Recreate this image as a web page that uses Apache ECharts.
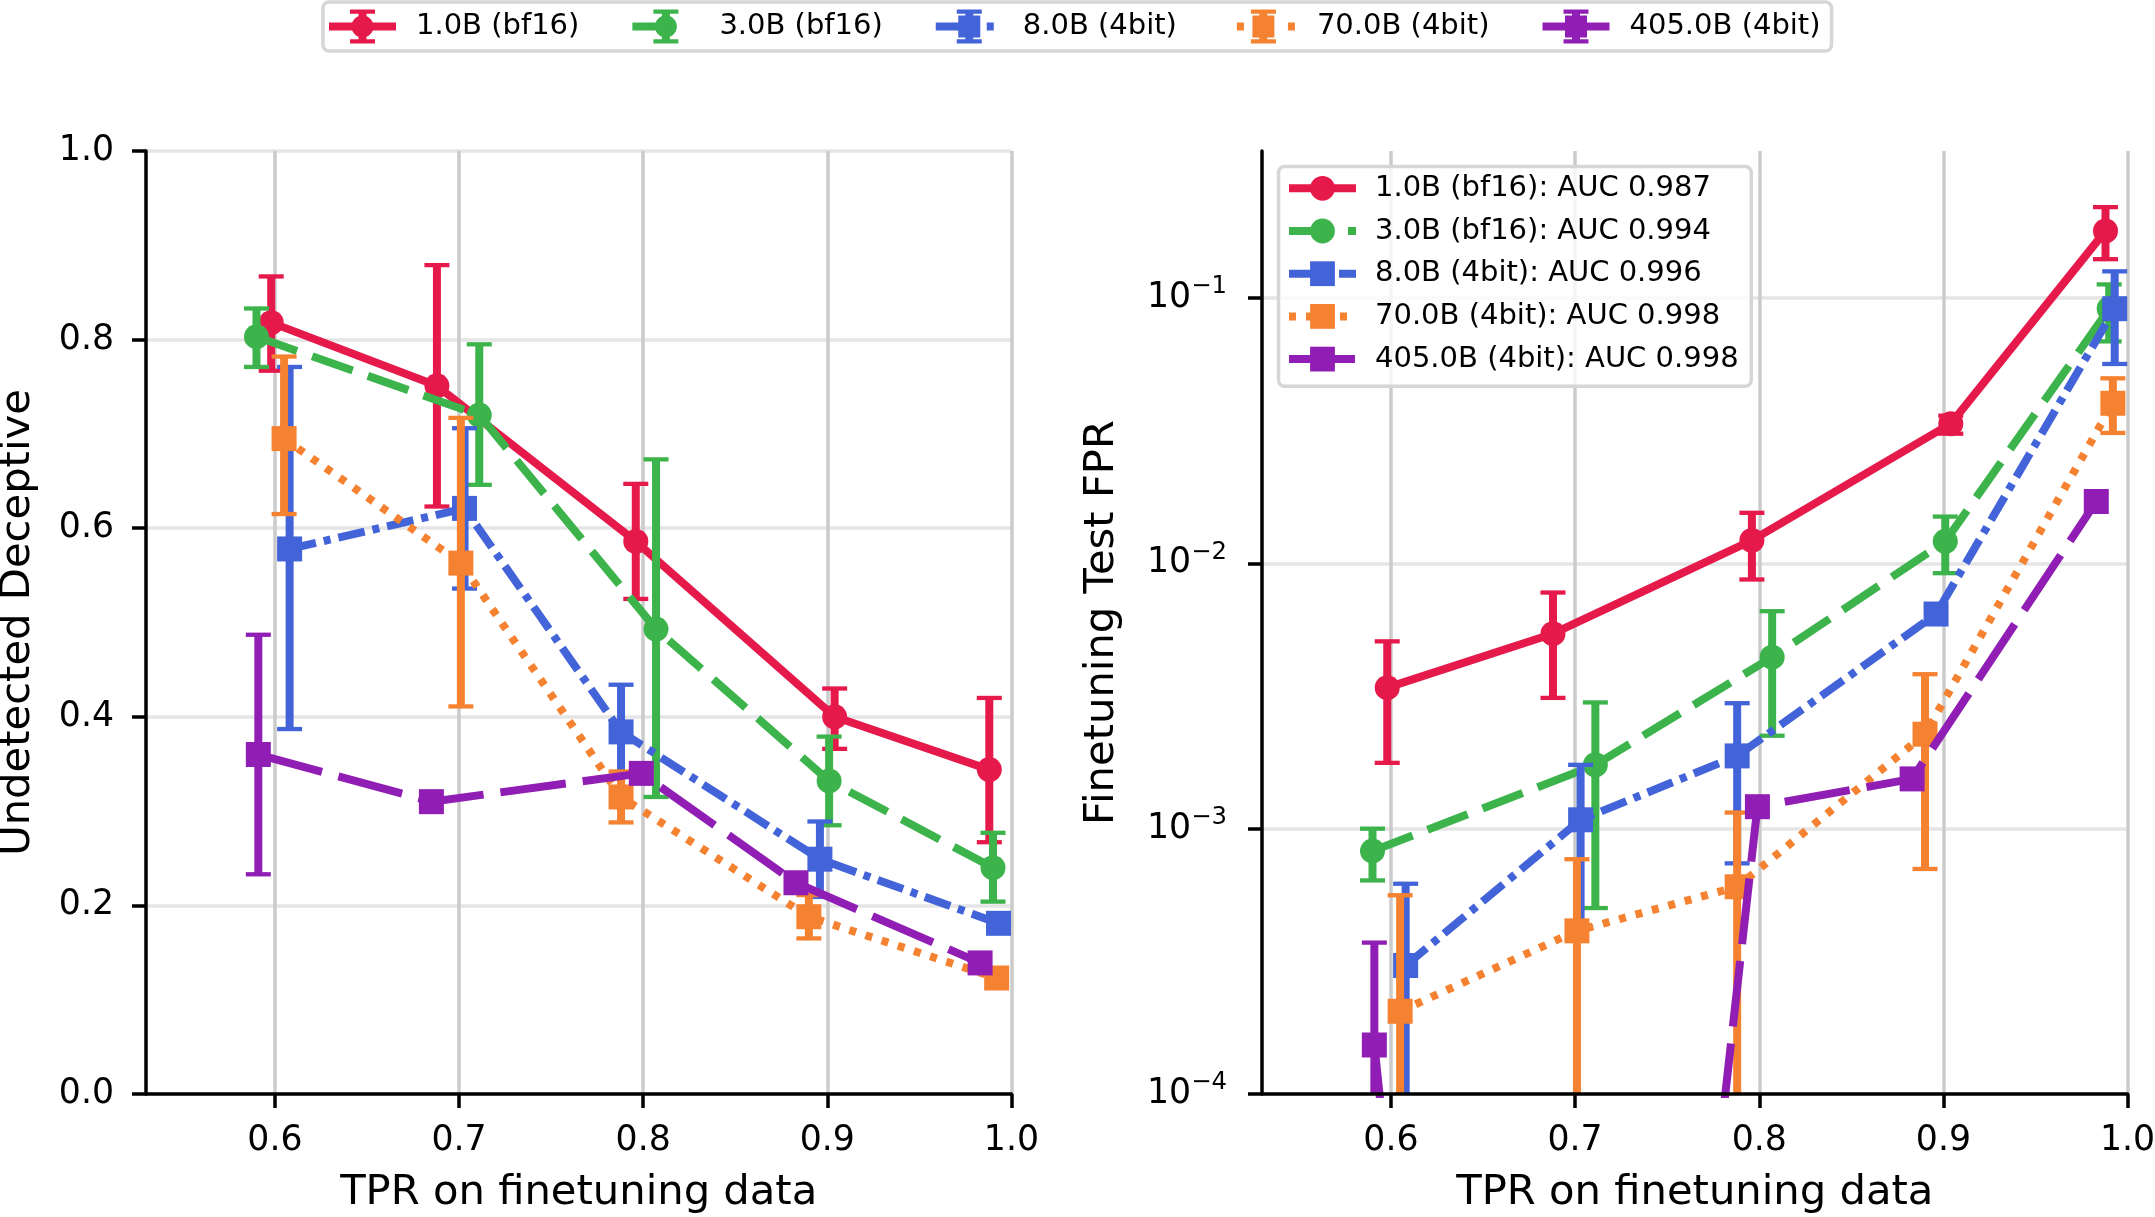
<!DOCTYPE html>
<html lang="en">
<head>
<meta charset="UTF-8" />
<title>Undetected deceptive rate and finetuning FPR vs TPR</title>
<script src="https://cdn.jsdelivr.net/npm/echarts@6.0.0/dist/echarts.min.js"></script>
<style>
  html, body { margin: 0; padding: 0; background: #fff; }
  #chart { width: 2155px; height: 1217px; }
</style>
</head>
<body>
<div id="chart"></div>
<script>
  // ---- data ----
  const models = ['1.0B (bf16)', '3.0B (bf16)', '8.0B (4bit)', '70.0B (4bit)', '405.0B (4bit)'];
  const aucs = ['0.987', '0.994', '0.996', '0.998', '0.998'];

  // TPR on finetuning data (x), shared by both panels
  const tpr = [
    [0.598, 0.688, 0.796, 0.904, 0.988],
    [0.590, 0.711, 0.807, 0.901, 0.990],
    [0.608, 0.703, 0.788, 0.896, 0.993],
    [0.605, 0.701, 0.788, 0.890, 0.992],
    [0.591, 0.685, 0.799, 0.883, 0.983]
  ];

  // left panel: undetected deceptive
  const undetected = [
    [0.818, 0.751, 0.586, 0.400, 0.344],
    [0.803, 0.720, 0.493, 0.332, 0.240],
    [0.578, 0.621, 0.384, 0.249, 0.181],
    [0.695, 0.563, 0.315, 0.188, 0.123],
    [0.360, 0.310, 0.340, 0.224, 0.139]
  ];
  const undetectedLo = [
    [0.767, 0.623, 0.525, 0.366, 0.267],
    [0.771, 0.646, 0.315, 0.285, 0.204],
    [0.387, 0.536, 0.337, 0.209, null],
    [0.615, 0.411, 0.288, 0.165, null],
    [0.233, null, null, null, null]
  ];
  const undetectedHi = [
    [0.867, 0.879, 0.647, 0.430, 0.420],
    [0.833, 0.795, 0.673, 0.379, 0.277],
    [0.771, 0.706, 0.434, 0.289, null],
    [0.782, 0.717, 0.342, 0.211, null],
    [0.487, null, null, null, null]
  ];

  // right panel: finetuning test FPR (log scale); 1e-10 / 1e-6 stand for ~0
  const fpr = [
    [0.0034, 0.00543, 0.0122, 0.0336, 0.179],
    [0.000824, 0.00174, 0.00443, 0.0121, 0.0911],
    [0.000305, 0.00108, 0.00188, 0.00644, 0.0911],
    [0.000205, 0.000412, 0.000604, 0.00227, 0.0401],
    [0.000153, 1e-10, 0.00121, 0.00154, 0.0171]
  ];
  const fprLo = [
    [0.00177, 0.00311, 0.00869, 0.0308, 0.140],
    [0.000638, 0.000502, 0.00224, 0.00918, 0.0686],
    [1e-6, 0.000426, 0.00074, null, 0.0564],
    [1e-6, 1e-6, 1e-6, 0.000705, 0.031],
    [1e-6, null, null, null, null]
  ];
  const fprHi = [
    [0.00508, 0.00776, 0.0155, 0.036, 0.220],
    [0.001, 0.00299, 0.0066, 0.0150, 0.1125],
    [0.00062, 0.00174, 0.00297, null, 0.126],
    [0.000561, 0.000767, 0.00115, 0.00382, 0.0498],
    [0.000372, null, null, null, null]
  ];

  const xTicks = [0.6, 0.7, 0.8, 0.9, 1.0];
  const logTicks = [1e-4, 1e-3, 1e-2, 1e-1];

  // ---- styles ----
  const FONT = 'DejaVu Sans';
  const colors = ['#e6194b', '#3cb44b', '#4363d8', '#f58231', '#911eb4'];
  const markers = ['circle', 'circle', 'rect', 'rect', 'rect'];
  const lineDash = ['solid', [43, 16], [27, 8, 7, 8], [7, 10], [66, 17]];
  const topLegendSegs = [[[0, 67]], [[0, 43]], [[0, 27], [51, 58]], [[7, 14], [58, 65]], [[0, 67]]];
  const LW = 8;

  function rect(x, y, w, h) {
    return 'M' + x + ' ' + y + 'h' + w + 'v' + h + 'h' + (-w) + 'Z';
  }

  // errorbar-style legend handle: line pieces, vertical bar with caps, marker
  function errIcon(i) {
    let d = rect(0, 0, 0.01, 0.01) + rect(66.99, 33.99, 0.01, 0.01);
    topLegendSegs[i].forEach(function (s) { d += rect(s[0], 13, s[1] - s[0], 8); });
    d += rect(29.5, 0, 8, 34) + rect(21, 0, 25, 4.3) + rect(21, 29.7, 25, 4.3);
    if (markers[i] === 'circle') {
      d += 'M22.5 17A11 11 0 1 1 44.5 17A11 11 0 1 1 22.5 17Z';
    } else {
      d += rect(22.5, 6, 22, 22);
    }
    return 'path://' + d;
  }

  function errorRenderer(color) {
    return function (params, api) {
      const x = api.value(0);
      const top = api.coord([x, api.value(2)]);
      const bot = api.coord([x, api.value(1)]);
      const half = 12.5;
      const bar = { stroke: color, lineWidth: LW };
      const cap = { stroke: color, lineWidth: 4.3 };
      return {
        type: 'group',
        children: [
          { type: 'line', shape: { x1: top[0], y1: top[1], x2: bot[0], y2: bot[1] }, style: bar },
          { type: 'line', shape: { x1: top[0] - half, y1: top[1], x2: top[0] + half, y2: top[1] }, style: cap },
          { type: 'line', shape: { x1: bot[0] - half, y1: bot[1], x2: bot[0] + half, y2: bot[1] }, style: cap }
        ]
      };
    };
  }

  const tickText = { fontFamily: FONT, fontSize: 34.7, color: '#000' };
  const nameText = { fontFamily: FONT, fontSize: 41.7, color: '#000' };
  const axisLine = { show: true, onZero: false, lineStyle: { color: '#000', width: 3.5 } };
  const axisTickStyle = { color: '#000', width: 3.5 };

  function mainX(gridIndex) {
    return {
      type: 'value', gridIndex: gridIndex, min: 0.53, max: 1.0, minInterval: 0.1, maxInterval: 0.1,
      position: 'bottom', z: 50,
      name: 'TPR on finetuning data', nameLocation: 'middle', nameGap: 78,
      nameTextStyle: Object.assign({ lineHeight: 42 }, nameText),
      axisLine: axisLine,
      axisTick: { show: true, length: 14, customValues: xTicks, lineStyle: axisTickStyle },
      axisLabel: Object.assign({ margin: 29, lineHeight: 35, customValues: xTicks,
        formatter: function (v) { return v.toFixed(1); } }, tickText),
      splitLine: { show: false }
    };
  }
  function gridX(gridIndex) {
    return {
      type: 'value', gridIndex: gridIndex, min: 0.53, max: 1.0, minInterval: 0.1, maxInterval: 0.1,
      position: 'top', z: 0,
      axisLine: { show: false }, axisTick: { show: false }, axisLabel: { show: false },
      splitLine: { show: true, showMinLine: false, lineStyle: { color: '#cbcbcb', width: 3.5 } }
    };
  }

  const series = [];
  models.forEach(function (name, i) {
    const base = {
      type: 'line', name: name, symbol: markers[i], symbolSize: 25, showSymbol: true,
      clip: true, animation: false, emphasis: { disabled: true },
      itemStyle: { color: colors[i], borderWidth: 0 },
      lineStyle: { color: colors[i], width: LW, type: lineDash[i], cap: 'butt', join: 'round' }
    };
    const errL = [], errR = [];
    tpr[i].forEach(function (x, j) {
      if (undetectedLo[i][j] != null) errL.push([x, undetectedLo[i][j], undetectedHi[i][j]]);
      if (fprLo[i][j] != null) errR.push([x, fprLo[i][j], fprHi[i][j]]);
    });
    series.push({
      type: 'custom', name: name + ' err', xAxisIndex: 0, yAxisIndex: 0, clip: true, z: 2 + 2 * i,
      renderItem: errorRenderer(colors[i]), encode: { x: 0, y: [1, 2] }, data: errL, silent: true
    });
    series.push(Object.assign({}, base, {
      xAxisIndex: 0, yAxisIndex: 0, z: 3 + 2 * i,
      data: tpr[i].map(function (x, j) { return [x, undetected[i][j]]; })
    }));
    series.push({
      type: 'custom', name: name + ' err', xAxisIndex: 1, yAxisIndex: 1, clip: true, z: 2 + 2 * i,
      renderItem: errorRenderer(colors[i]), encode: { x: 0, y: [1, 2] }, data: errR, silent: true
    });
    series.push(Object.assign({}, base, {
      xAxisIndex: 1, yAxisIndex: 1, z: 3 + 2 * i,
      data: tpr[i].map(function (x, j) { return [x, fpr[i][j]]; })
    }));
  });

  const chart = echarts.init(document.getElementById('chart'));
  chart.setOption({
    animation: false,
    backgroundColor: '#fff',
    grid: [
      { left: 146, top: 151, width: 865.4, height: 943, containLabel: false, outerBoundsMode: 'none' },
      { left: 1262, top: 151, width: 865.6, height: 943, containLabel: false, outerBoundsMode: 'none' }
    ],
    legend: [
      {
        data: models.map(function (n, i) { return { name: n, icon: errIcon(i) }; }),
        orient: 'horizontal', left: 323, top: 2,
        itemWidth: 67, itemHeight: 34, itemGap: 53,
        padding: [7.5, 11, 7.5, 6],
        backgroundColor: 'rgba(255,255,255,0.8)', borderColor: '#d6d6d6', borderWidth: 3.5, borderRadius: 6,
        selectedMode: false, itemStyle: { borderWidth: 0 },
        textStyle: { fontFamily: FONT, fontSize: 29, color: '#000', lineHeight: 34, padding: [0, 0, 0, 15] }
      },
      {
        data: models,
        formatter: function (n) { return n + ': AUC ' + aucs[models.indexOf(n)]; },
        orient: 'vertical', left: 1278.5, top: 166.5,
        itemWidth: 67, itemHeight: 31, itemGap: 11.7,
        padding: [6.3, 12.7, 11.7, 6.5],
        backgroundColor: 'rgba(255,255,255,0.8)', borderColor: '#d6d6d6', borderWidth: 3.5, borderRadius: 6,
        selectedMode: false, itemStyle: { borderWidth: 0 }, lineStyle: { width: LW },
        textStyle: { fontFamily: FONT, fontSize: 29, color: '#000', lineHeight: 31, padding: [0, 0, 0, 14] }
      }
    ],
    xAxis: [mainX(0), mainX(1), gridX(0), gridX(1)],
    yAxis: [
      {
        type: 'value', gridIndex: 0, min: 0, max: 1, interval: 0.2, position: 'left', z: 50,
        name: 'Undetected Deceptive', nameLocation: 'middle', nameRotate: 90, nameGap: 110,
        nameTextStyle: Object.assign({ lineHeight: 36 }, nameText),
        axisLine: axisLine,
        axisTick: { show: true, length: 14, lineStyle: axisTickStyle },
        axisLabel: Object.assign({ margin: 32, formatter: function (v) { return v.toFixed(1); } }, tickText),
        splitLine: { show: false }
      },
      {
        type: 'log', logBase: 10, gridIndex: 1, min: 1e-4, max: 0.358, position: 'left', z: 50,
        name: 'Finetuning Test FPR', nameLocation: 'middle', nameRotate: 90, nameGap: 142,
        nameTextStyle: Object.assign({ lineHeight: 36 }, nameText),
        axisLine: axisLine,
        axisTick: { show: true, length: 14, customValues: logTicks, lineStyle: axisTickStyle },
        axisLabel: {
          margin: 35, customValues: logTicks,
          formatter: function (v) { return '{b|10}{s|\u2212' + Math.round(-Math.log10(v)) + '}'; },
          rich: {
            b: { fontFamily: FONT, fontSize: 34.7, color: '#000', lineHeight: 46 },
            s: { fontFamily: FONT, fontSize: 24.3, color: '#000', lineHeight: 24, verticalAlign: 'top' }
          }
        },
        splitLine: { show: false }
      },
      {
        type: 'value', gridIndex: 0, min: 0, max: 1, interval: 0.2, position: 'right', z: 0,
        axisLine: { show: false }, axisTick: { show: false }, axisLabel: { show: false },
        splitLine: { show: true, showMinLine: false, lineStyle: { color: '#e5e5e5', width: 3.5 } }
      },
      {
        type: 'log', logBase: 10, gridIndex: 1, min: 1e-4, max: 0.358, position: 'right', z: 0,
        axisLine: { show: false }, axisTick: { show: false }, axisLabel: { show: false },
        splitLine: { show: true, showMinLine: false, showMaxLine: false, lineStyle: { color: '#e5e5e5', width: 3.5 } }
      }
    ],
    series: series
  });
</script>
</body>
</html>
